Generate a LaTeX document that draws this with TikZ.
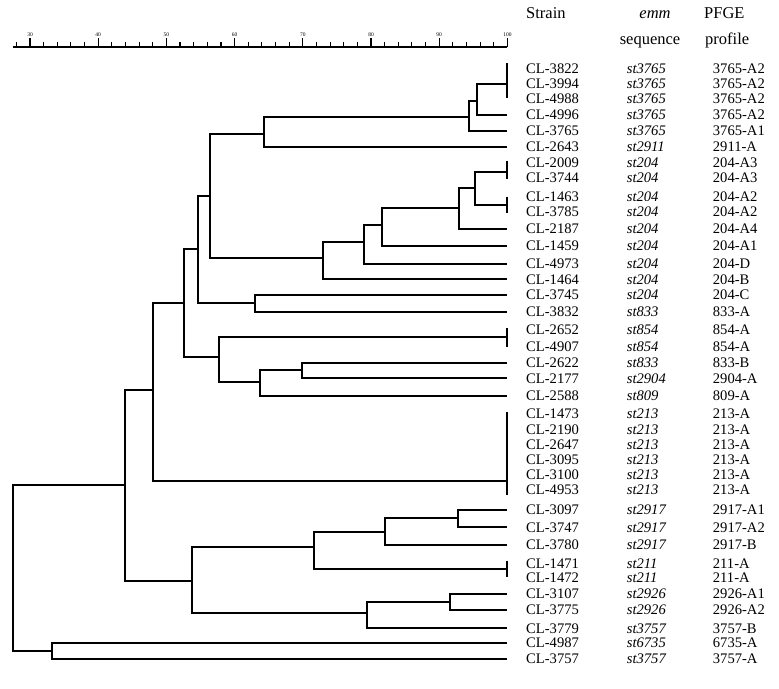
\documentclass[tikz,border=0pt]{standalone}
\usepackage{fontspec}
\setmainfont{Liberation Serif}
\usetikzlibrary{calc}
\newcommand{\rowfont}{\fontsize{14.6}{16}\selectfont}
\newcommand{\headfont}{\fontsize{16.5}{19}\selectfont}
\tikzset{
  branch/.style={line width=1.9pt},
  tiebar/.style={line width=1.9pt},
  strainlbl/.style={anchor=west, inner sep=0pt, font=\rowfont},
  seqlbl/.style={anchor=west, inner sep=0pt, font=\rowfont\itshape},
  pfgelbl/.style={anchor=west, inner sep=0pt, font=\rowfont},
  headlbl/.style={inner sep=0pt, font=\headfont},
  scaleaxis/.style={line width=2.2pt},
  majortick/.style={line width=1.2pt},
  minortick/.style={line width=1.1pt},
  ticklbl/.style={inner sep=0pt, font=\fontsize{5.5}{6}\selectfont}
}

\begin{document}
\begin{tikzpicture}[x=1pt,y=-1pt]
  \useasboundingbox (0,0) rectangle (779,688);
  % similarity scale
  \coordinate (axl) at (12.7,46.7);
  \coordinate (axr) at (507.4,46.7);
  \draw[scaleaxis] (axl) -- (axr);
  \foreach \v in {28,30,...,100}
    \draw[minortick] ({30+6.82*(\v-30)},46.7) -- ++(0,-4.4);
  \foreach \v in {30,40,...,100} {
    \draw[majortick] ({30+6.82*(\v-30)},46.7) -- ++(0,-8.4);
    \node[ticklbl] (tick\v) at ({30+6.82*(\v-30)},34.3) {\v};
  }
  % column heads
  \node[headlbl, anchor=base west] (hstrain) at (526,19) {Strain};
  \node[headlbl, anchor=base] (hemm) at (655,19) {\itshape emm};
  \node[headlbl, anchor=base] (hseq) at (650,44) {sequence};
  \node[headlbl, anchor=base west] (hpfge) at (704,19) {PFGE};
  \node[headlbl, anchor=base west] (hprof) at (705,44) {profile};
  % isolates
  \foreach \ys/\strn/\seq/\prof [count=\i] in {
      68.3/CL-3822/st3765/3765-A2, 83.3/CL-3994/st3765/3765-A2,
      98.3/CL-4988/st3765/3765-A2, 115/CL-4996/st3765/3765-A2,
      131/CL-3765/st3765/3765-A1, 146.7/CL-2643/st2911/2911-A,
      162.3/CL-2009/st204/204-A3, 177.7/CL-3744/st204/204-A3,
      196.7/CL-1463/st204/204-A2, 211.7/CL-3785/st204/204-A2,
      229/CL-2187/st204/204-A4, 246/CL-1459/st204/204-A1,
      264/CL-4973/st204/204-D, 279.3/CL-1464/st204/204-B,
      295/CL-3745/st204/204-C, 311.7/CL-3832/st833/833-A,
      330/CL-2652/st854/854-A, 346.7/CL-4907/st854/854-A,
      362.7/CL-2622/st833/833-B, 378.3/CL-2177/st2904/2904-A,
      395.7/CL-2588/st809/809-A, 413.3/CL-1473/st213/213-A,
      429.3/CL-2190/st213/213-A, 444.7/CL-2647/st213/213-A,
      460/CL-3095/st213/213-A, 474.3/CL-3100/st213/213-A,
      490/CL-4953/st213/213-A, 510/CL-3097/st2917/2917-A1,
      527.3/CL-3747/st2917/2917-A2, 545/CL-3780/st2917/2917-B,
      564/CL-1471/st211/211-A, 577.3/CL-1472/st211/211-A,
      594/CL-3107/st2926/2926-A1, 610/CL-3775/st2926/2926-A2,
      628.3/CL-3779/st3757/3757-B, 642.7/CL-4987/st6735/6735-A,
      659/CL-3757/st3757/3757-A} {
    \coordinate (leaf\i) at (507,\ys);
    \node[strainlbl] (strain\i) at (526,\ys) {\strn};
    \node[seqlbl] (seq\i) at (626.7,\ys) {\seq};
    \node[pfgelbl] (pfge\i) at (712.7,\ys) {\prof};
  }
  % identical profiles
  \coordinate (t1) at (507,84.3);
  \coordinate (t7) at (507,171.7);
  \coordinate (t9) at (507,205);
  \coordinate (t17) at (507,337.3);
  \coordinate (t22) at (507,481);
  \coordinate (t31) at (507,569);
  \draw[tiebar] ([yshift=5pt]leaf1) -- ([yshift=0.6pt]leaf3);
  \draw[tiebar] ([yshift=1pt]leaf7) -- ([yshift=-1.6pt]leaf8);
  \draw[tiebar] ([yshift=0pt]leaf9) -- ([yshift=-1.6pt]leaf10);
  \draw[tiebar] ([yshift=1.7pt]leaf17) -- ([yshift=0pt]leaf18);
  \draw[tiebar] ([yshift=1.6pt]leaf22) -- ([yshift=-5pt]leaf27);
  \draw[tiebar] ([yshift=3.3pt]leaf31) -- ([yshift=0pt]leaf32);
  % clusters
  \foreach \name/\xs/\ys in {
      n1/476.7/100.7, n2/469.3/117, n3/264/133.7, n4/475/188.3,
      n5/459.3/208.3, n6/381.7/225, n7/364.3/241.7, n8/323.3/257.7,
      n9/210/195.7, n10/255.3/302.7, n11/198/249, n12/302.3/370,
      n13/260/382.3, n14/219.3/356.7, n15/184.3/303.3, n16/153.3/390,
      n17/458.3/518.3, n18/385/531.7, n19/314/547.3, n20/450/601.7,
      n21/366.7/613.3, n22/192.3/581, n23/125/485, n24/51.7/650.7,
      root/12.7/567}
    \coordinate (\name) at (\xs,\ys);
  \foreach \p/\a/\b in {
      n1/t1/leaf4, n2/n1/leaf5, n3/n2/leaf6, n4/t7/t9, n5/n4/leaf11,
      n6/n5/leaf12, n7/n6/leaf13, n8/n7/leaf14, n9/n3/n8,
      n10/leaf15/leaf16, n11/n9/n10, n12/leaf19/leaf20, n13/n12/leaf21,
      n14/t17/n13, n15/n11/n14, n16/n15/t22, n17/leaf28/leaf29,
      n18/n17/leaf30, n19/n18/t31, n20/leaf33/leaf34, n21/n20/leaf35,
      n22/n19/n21, n23/n16/n22, n24/leaf36/leaf37, root/n23/n24}
    \draw[branch] (\a) -| (\p) |- (\b);
\end{tikzpicture}
\end{document}
